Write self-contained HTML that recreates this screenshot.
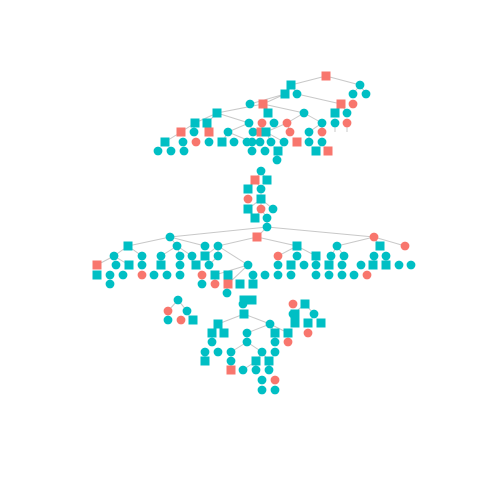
<!DOCTYPE html>
<html><head><meta charset="utf-8"><style>
html,body{margin:0;padding:0;background:#fff}
svg{display:block}
</style></head><body>
<svg id="chart" width="480" height="480" viewBox="0 0 480 480">
<rect width="480" height="480" fill="#fff"/>
<g id="edges"></g>
<g id="nodes"></g>
</svg>
<script>
// Each row: y value, then list of [x, kind] where kind = shape(s/c)+group(t/r)
const nodeRows = [
 [76, [[326,"sr"]]],
 [85, [[291,"st"],[360,"ct"]]],
 [94, [[285,"st"],[297,"ct"],[353,"ct"],[366,"ct"]]],
 [104,[[250,"ct"],[263,"sr"],[341,"sr"],[353,"cr"]]],
 [113,[[217,"st"],[268,"st"],[304,"ct"],[335,"st"],[347,"ct"]]],
 [123,[[195,"st"],[207,"st"],[249,"ct"],[262,"cr"],[274,"ct"],[287,"cr"],[322,"ct"],[335,"ct"],[347,"cr"]]],
 [132,[[181,"sr"],[194,"ct"],[209,"sr"],[228,"ct"],[253,"ct"],[261,"sr"],[266,"st"],[290,"cr"],[309,"ct"],[322,"cr"]]],
 [142,[[165,"st"],[183,"ct"],[196,"cr"],[209,"ct"],[222,"st"],[234,"ct"],[247,"ct"],[252,"ct"],[260,"ct"],[271,"ct"],[284,"ct"],[297,"sr"],[309,"ct"],[322,"ct"]]],
 [151,[[158,"ct"],[171,"ct"],[184,"ct"],[252,"ct"],[265,"ct"],[278,"st"],[316,"st"],[328,"sr"]]],
 [160,[[277,"ct"]]],
 [171,[[261,"ct"]]],
 [180,[[255,"sr"],[267,"st"]]],
 [189,[[248,"st"],[261,"ct"]]],
 [199,[[248,"cr"],[261,"st"]]],
 [209,[[248,"st"],[261,"cr"],[273,"ct"]]],
 [218,[[255,"st"],[267,"ct"]]],
 [227,[[267,"ct"]]],
 [237,[[170,"ct"],[257,"sr"],[374,"cr"]]],
 [246,[[128,"st"],[177,"ct"],[205,"ct"],[218,"ct"],[297,"st"],[337,"ct"],[380,"st"],[405,"cr"]]],
 [256,[[114,"ct"],[142,"ct"],[161,"ct"],[180,"ct"],[192,"ct"],[205,"st"],[218,"ct"],[278,"cr"],[297,"ct"],[316,"st"],[331,"ct"],[344,"ct"],[374,"ct"],[386,"ct"]]],
 [265,[[97,"sr"],[116,"ct"],[129,"st"],[142,"ct"],[161,"st"],[180,"ct"],[196,"st"],[209,"ct"],[248,"ct"],[278,"ct"],[291,"st"],[304,"ct"],[316,"ct"],[329,"st"],[342,"ct"],[361,"ct"],[373,"st"],[386,"st"],[399,"ct"],[411,"ct"]]],
 [275,[[97,"st"],[110,"ct"],[123,"ct"],[142,"cr"],[154,"ct"],[167,"ct"],[180,"ct"],[202,"cr"],[215,"st"],[228,"st"],[253,"ct"],[265,"ct"],[278,"ct"],[291,"ct"],[316,"ct"],[329,"ct"],[342,"ct"],[354,"ct"],[367,"cr"]]],
 [284,[[110,"ct"],[202,"ct"],[215,"cr"],[228,"sr"],[240,"st"],[253,"st"]]],
 [293,[[227,"ct"]]],
 [300,[[244,"st"],[252,"st"],[178,"ct"]]],
 [304,[[243,"ct"],[293,"cr"],[305,"st"]]],
 [311,[[168,"cr"],[187,"ct"]]],
 [314,[[244,"st"],[293,"ct"],[295,"st"],[314,"ct"]]],
 [320,[[168,"ct"],[181,"cr"],[193,"st"]]],
 [323,[[295,"st"],[308,"st"],[321,"st"]]],
 [324,[[218,"st"],[270,"ct"]]],
 [333,[[212,"st"],[224,"st"],[247,"ct"],[275,"st"],[288,"st"],[308,"cr"]]],
 [342,[[212,"ct"],[247,"ct"],[275,"ct"],[288,"cr"]]],
 [352,[[205,"ct"],[218,"ct"],[231,"ct"],[262,"ct"],[275,"ct"]]],
 [361,[[205,"st"],[231,"ct"],[256,"st"],[269,"st"]]],
 [370,[[231,"sr"],[243,"ct"],[256,"ct"],[269,"ct"]]],
 [380,[[262,"ct"],[275,"cr"]]],
 [390,[[262,"ct"],[275,"ct"]]]
];
// edges as [x1,y1,x2,y2] between node centres
const edgeList = [
 [326,76,291,85],[326,76,360,85],[291,85,285,94],[291,85,297,94],[360,85,353,94],[360,85,366,94],
 [285,94,250,104],[285,94,263,104],[297,94,341,104],[263,104,217,113],[263,104,268,113],[263,104,304,113],[341,104,335,113],[341,104,347,113],
 [217,113,195,123],[217,113,207,123],[217,113,249,123],[304,113,287,123],[304,113,322,123],[249,123,228,132],[249,123,253,132],
 [287,123,266,132],[287,123,290,132],[195,123,181,132],[181,132,165,142],[322,123,322,132],[322,123,309,132],[228,132,222,142],[228,132,252,142],
 [266,132,271,142],[266,132,284,142],[309,132,309,142],[347,123,347,132],[335,123,335,132],
 [261,171,255,180],[261,171,267,180],[255,180,248,189],[255,180,261,189],[261,189,261,199],[261,199,248,209],[261,199,261,209],[261,199,273,209],[261,209,255,218],[261,209,267,218],[267,218,267,227],
 [267,227,170,237],[267,227,257,237],[267,227,374,237],[170,237,128,246],[170,237,177,246],[170,237,205,246],
 [257,237,218,246],[257,237,297,246],[374,237,337,246],[374,237,380,246],[374,237,405,246],[128,246,114,256],[128,246,142,256],
 [177,246,161,256],[177,246,180,256],[177,246,192,256],[218,246,205,256],[218,246,218,256],[218,246,248,265],[297,246,278,256],[297,246,316,256],
 [337,246,331,256],[337,246,344,256],[114,256,97,265],[114,256,129,265],[248,265,215,275],[248,265,228,284],[218,256,209,265],
 [244,314,218,324],[244,314,270,324],[270,324,247,333],[270,324,275,333],[270,324,288,333],[247,342,231,352],[247,342,262,352],
 [262,352,256,361],[262,352,269,361],[256,361,243,370],[269,361,269,370],[178,300,168,311],[178,300,187,311],[305,304,314,314],[305,304,293,314]
];
const colors = {t:"#00BFC4", r:"#F8766D"};
const NS = "http://www.w3.org/2000/svg";
const eg = document.getElementById("edges"), ng = document.getElementById("nodes");
edgeList.forEach(function(e){
  const l = document.createElementNS(NS,"line");
  
  
  l.setAttribute("x1",e[0]);l.setAttribute("y1",e[1]);l.setAttribute("x2",e[2]);l.setAttribute("y2",e[3]);
  l.setAttribute("stroke","#c8c8c8");l.setAttribute("stroke-width","1");
  eg.appendChild(l);
});
nodeRows.forEach(function(row){
  const y = row[0];
  row[1].forEach(function(n){
    const x = n[0], s = n[1][0], g = n[1][1];
    let el;
    if (s==="s"){
      el = document.createElementNS(NS,"rect");
      el.setAttribute("x",x-4.5);el.setAttribute("y",y-4.5);
      el.setAttribute("width",9);el.setAttribute("height",9);
    } else {
      el = document.createElementNS(NS,"circle");
      el.setAttribute("cx",x);el.setAttribute("cy",y);el.setAttribute("r",4.4);
    }
    
    
    el.setAttribute("fill",colors[g]);
    ng.appendChild(el);
  });
});
</script>
</body></html>
